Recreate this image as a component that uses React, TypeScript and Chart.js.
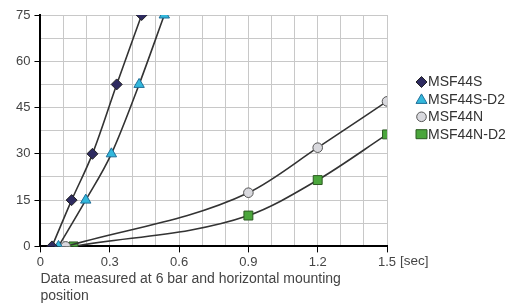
import React, { useEffect, useRef } from "react";
import { Chart, registerables } from "chart.js";

Chart.register(...registerables);

const S_X = [0.05, 0.135, 0.225, 0.33, 0.438];
const S_Y = [0, 15, 30, 52.5, 75];
const SD2_X = [0.078, 0.196, 0.307, 0.427, 0.536];
const SD2_Y = [0, 15, 30, 52.5, 75];
const N_X = [0.109, 0.9, 1.2, 1.5];
const N_Y = [0, 17.4, 32, 47];
const ND2_X = [0.143, 0.9, 1.2, 1.5];
const ND2_Y = [0, 10, 21.5, 36.3];

const SERIES_NAMES = ["MSF44S", "MSF44S-D2", "MSF44N", "MSF44N-D2"];
const X_TICK_LABELS = ["0", "0.3", "0.6", "0.9", "1.2", "1.5"];
const Y_TICK_LABELS = ["0", "15", "30", "45", "60", "75"];
const X_UNIT = "[sec]";
const NOTE_LINES = ["Data measured at 6 bar and horizontal mounting", "position"];

const FONT = "'Liberation Sans', Arial, Helvetica, sans-serif";

function pts(xs: number[], ys: number[]) {
  return xs.map((x, i) => ({ x, y: ys[i] }));
}

const isXMajor = (v: number) => Math.round(v * 10) % 3 === 0;
const isYMajor = (v: number) => Math.round(v * 10) % 150 === 0;

function drawMarker(ctx: CanvasRenderingContext2D, style: string, x: number, y: number, fill: string, stroke: string) {
  ctx.beginPath();
  if (style === "rectRot") {
    const r = 5.5;
    ctx.moveTo(x, y - r);
    ctx.lineTo(x + r, y);
    ctx.lineTo(x, y + r);
    ctx.lineTo(x - r, y);
    ctx.closePath();
  } else if (style === "triangle") {
    ctx.moveTo(x, y - 5.5);
    ctx.lineTo(x + 5.5, y + 4);
    ctx.lineTo(x - 5.5, y + 4);
    ctx.closePath();
  } else if (style === "circle") {
    ctx.arc(x, y, 4.8, 0, Math.PI * 2);
  } else {
    ctx.rect(x - 5.5, y - 4.5, 11, 9);
  }
  ctx.fillStyle = fill;
  ctx.fill();
  ctx.lineWidth = 1;
  ctx.strokeStyle = stroke;
  ctx.stroke();
}

export default function App() {
  const ref = useRef<HTMLCanvasElement>(null);
  useEffect(() => {
    if (!ref.current) return;
    const extrasPlugin = {
      id: "extras",
      afterDraw(chart: any) {
        const { ctx, chartArea } = chart;
        ctx.save();
        ctx.textBaseline = "middle";
        ctx.textAlign = "left";
        ctx.fillStyle = "#444";
        ctx.font = `13.5px ${FONT}`;
        ctx.fillText(X_UNIT, chartArea.right + 13, chartArea.bottom + 15);
        ctx.font = `14px ${FONT}`;
        NOTE_LINES.forEach((t, i) => {
          ctx.fillText(t, chartArea.left, chartArea.bottom + 33 + i * 16.5);
        });
        // legend
        chart.data.datasets.forEach((d: any, i: number) => {
          const y = chartArea.top + 67 + i * 17.4;
          const mx = chartArea.right + 34.5;
          drawMarker(ctx, d.pointStyle, mx, y, d.pointBackgroundColor, d.pointBorderColor);
          ctx.fillStyle = "#333";
          ctx.font = `14px ${FONT}`;
          ctx.fillText(d.label, chartArea.right + 41, y + 0.5);
        });
        ctx.restore();
      },
    };
    const common = {
      borderColor: "#333",
      borderWidth: 1.6,
      cubicInterpolationMode: "monotone",
      showLine: true,
      pointBorderWidth: 1,
    };
    const chart = new Chart(ref.current, {
      type: "scatter",
      data: {
        datasets: [
          { ...common, label: SERIES_NAMES[0], data: pts(S_X, S_Y), pointStyle: "rectRot", pointRadius: 5.5, pointBackgroundColor: "#2e2b60", pointBorderColor: "#222", backgroundColor: "#2e2b60" },
          { ...common, label: SERIES_NAMES[1], data: pts(SD2_X, SD2_Y), pointStyle: "triangle", pointRadius: 6, pointBackgroundColor: "#33b8dc", pointBorderColor: "#1f6f99", backgroundColor: "#33b8dc" },
          { ...common, label: SERIES_NAMES[2], data: pts(N_X, N_Y), pointStyle: "circle", pointRadius: 4.8, pointBackgroundColor: "#d9d9de", pointBorderColor: "#555", backgroundColor: "#d9d9de" },
          { ...common, label: SERIES_NAMES[3], data: pts(ND2_X, ND2_Y), pointStyle: "rect", pointRadius: 6.3, pointBackgroundColor: "#4ba63c", pointBorderColor: "#2c5a22", backgroundColor: "#4ba63c" },
        ],
      },
      options: {
        animation: false,
        responsive: true,
        maintainAspectRatio: false,
        layout: { padding: { left: 12, top: 15, right: 119, bottom: 32 } },
        plugins: {
          tooltip: { enabled: false },
          legend: { display: false },
        },
        scales: {
          x: {
            type: "linear",
            min: 0,
            max: 1.5,
            ticks: {
              stepSize: 0.1,
              autoSkip: false,
              maxRotation: 0,
              color: "#444",
              padding: 2,
              font: { size: 13, family: FONT },
              callback: (v: any) => (isXMajor(v) ? X_TICK_LABELS[Math.round((v * 10) / 3)] : ""),
            },
            grid: {
              color: "#c8c8c8",
              lineWidth: 1,
              tickLength: 6,
              tickColor: (c: any) => (c.tick && isXMajor(c.tick.value) ? "#000" : "rgba(0,0,0,0)"),
            },
            border: { color: "#000", width: 2 },
          },
          y: {
            min: 0,
            max: 75,
            ticks: {
              stepSize: 7.5,
              autoSkip: false,
              color: "#444",
              padding: 4,
              font: { size: 13, family: FONT },
              callback: (v: any) => (isYMajor(v) ? Y_TICK_LABELS[Math.round(v / 15)] : ""),
            },
            grid: {
              color: "#c8c8c8",
              lineWidth: 1,
              tickLength: 6,
              tickColor: (c: any) => (c.tick && isYMajor(c.tick.value) ? "#000" : "rgba(0,0,0,0)"),
            },
            border: { color: "#000", width: 2 },
          },
        },
      } as any,
      plugins: [extrasPlugin],
    });
    return () => chart.destroy();
  }, []);
  return (
    <div style={{ position: "absolute", left: 0, top: 0, width: 506, height: 304, background: "#fff" }}>
      <canvas ref={ref} />
    </div>
  );
}
